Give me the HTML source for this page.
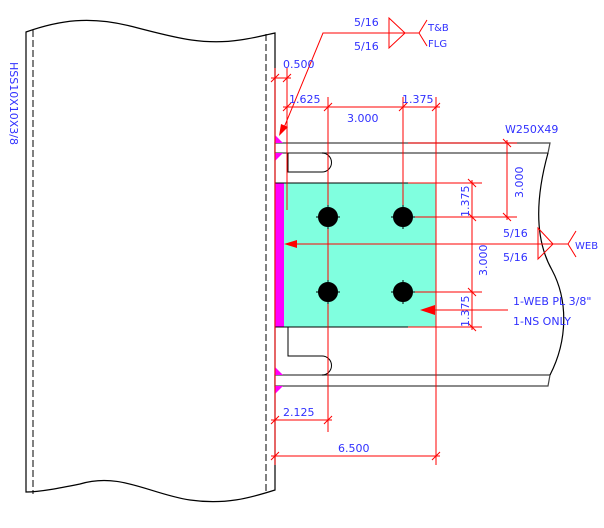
<!DOCTYPE html>
<html><head><meta charset="utf-8"><style>
html,body{margin:0;padding:0;background:#fff;width:604px;height:528px;overflow:hidden}
text{font-family:"DejaVu Sans",sans-serif;font-size:11px;fill:#3030ff}
</style></head><body>
<svg width="604" height="528" viewBox="0 0 604 528" xmlns="http://www.w3.org/2000/svg">
<path d="M26,32 C60,20 90,16 130,26 C170,36 200,46 240,40 C255,38 265,35 275,33 L275,490 C250,498 225,505 190,500 C150,494 120,472 80,484 C60,488 40,492 26,492 Z" fill="#fff" stroke="#000" stroke-width="1.2"/>
<line x1="33" y1="30" x2="33" y2="494" stroke="#000" stroke-dasharray="7,3"/>
<line x1="266" y1="34" x2="266" y2="492" stroke="#000" stroke-dasharray="7,3"/>
<text transform="translate(10,62) rotate(90)">HSS10X10X3/8</text>
<path d="M275,143 L550,143 L548,153 L275,153 Z" fill="#fff" stroke="#444" stroke-width="1.2"/>
<path d="M275,375 L550,375 L548,386 L275,386 Z" fill="#fff" stroke="#444" stroke-width="1.2"/>
<path d="M548,153 C535,200 535,240 552,270 C568,300 568,340 550,375" fill="none" stroke="#000" stroke-width="1.2"/>
<path d="M288,153 L288,172 L322,172 A9.5,9.5 0 0 0 322,153" fill="none" stroke="#000"/>
<path d="M288,327 L288,356 L322,356 A9.5,9.5 0 0 1 322,375" fill="none" stroke="#000"/>
<rect x="284" y="183" width="152" height="144" fill="#80ffdf"/>
<rect x="275" y="183" width="9" height="144" fill="#ff00ff"/>
<line x1="275" y1="183" x2="408" y2="183" stroke="#000"/>
<line x1="275" y1="327" x2="408" y2="327" stroke="#000"/>
<g fill="#ff00ff">
<polygon points="275,135 283,143 275,143"/><polygon points="275,153 283,153 275,161"/>
<polygon points="275,367 283,375 275,375"/><polygon points="275,386 283,386 275,394"/>
</g>
<g stroke="#ff0000" stroke-width="1" fill="none">
<line x1="275" y1="68" x2="275" y2="465"/>
<line x1="287" y1="68" x2="287" y2="210"/>
<line x1="328" y1="97" x2="328" y2="432"/>
<line x1="403" y1="97" x2="403" y2="217"/>
<line x1="436" y1="97" x2="436" y2="465"/>
<line x1="271" y1="78" x2="291" y2="78"/>
<line x1="283" y1="107" x2="440" y2="107"/>
<line x1="271" y1="420" x2="332" y2="420"/>
<line x1="271" y1="456" x2="440" y2="456"/>
<line x1="408" y1="183" x2="482" y2="183"/>
<line x1="403" y1="217" x2="517" y2="217"/>
<line x1="403" y1="292" x2="482" y2="292"/>
<line x1="408" y1="327" x2="482" y2="327"/>
<line x1="472" y1="180" x2="472" y2="330"/>
<line x1="408" y1="143" x2="517" y2="143"/>
<line x1="507" y1="140" x2="507" y2="220"/>
<path d="M271,82 L279,74 M283,82 L291,74 M283,111 L291,103 M324,111 L332,103 M399,111 L407,103 M432,111 L440,103 M271,424 L279,416 M324,424 L332,416 M271,460 L279,452 M432,460 L440,452 M468,179 L476,187 M468,213 L476,221 M468,288 L476,296 M468,323 L476,331 M503,139 L511,147 M503,213 L511,221"/>
<path d="M283,130 L323,33 L419,33 M389,18 L405,33 L389,48 Z M419,33 L427,20 M419,33 L427,46"/>
<path d="M295,244 L568,244 M538,228 L553,244 L538,259 Z M568,244 L576,231 M568,244 L576,257"/>
<line x1="430" y1="310" x2="508" y2="310"/>
</g>
<g fill="#ff0000">
<polygon points="279,136 281,124 288,127"/>
<polygon points="284,244 297,240 297,248"/>
<polygon points="420,310 435,305 435,315"/>
</g>
<g fill="#000" stroke="#000">
<circle cx="328" cy="217" r="9.5"/><circle cx="403" cy="217" r="9.5"/>
<circle cx="328" cy="292" r="9.5"/><circle cx="403" cy="292" r="9.5"/>
<path d="M316,217 L340,217 M328,205 L328,229 M391,217 L415,217 M403,205 L403,229 M316,292 L340,292 M328,280 L328,304 M391,292 L415,292 M403,280 L403,304" stroke-width="1"/>
</g>
<text x="283" y="68">0.500</text>
<text x="289" y="103">1.625</text>
<text x="402" y="103">1.375</text>
<text x="347" y="122">3.000</text>
<text x="283" y="416">2.125</text>
<text x="338" y="452">6.500</text>
<text x="505" y="133">W250X49</text>
<text x="354" y="26">5/16</text>
<text x="354" y="50">5/16</text>
<text x="428" y="31" style="font-size:10px">T&amp;B</text>
<text x="428" y="47" style="font-size:10px">FLG</text>
<text x="503" y="237">5/16</text>
<text x="503" y="261">5/16</text>
<text x="575" y="249" style="font-size:10px">WEB</text>
<text x="513" y="305">1-WEB PL 3/8"</text>
<text x="513" y="325">1-NS ONLY</text>
<text transform="translate(469,217) rotate(-90)">1.375</text>
<text transform="translate(487,276) rotate(-90)">3.000</text>
<text transform="translate(469,327) rotate(-90)">1.375</text>
<text transform="translate(523,198) rotate(-90)">3.000</text>
</svg>
</body></html>
